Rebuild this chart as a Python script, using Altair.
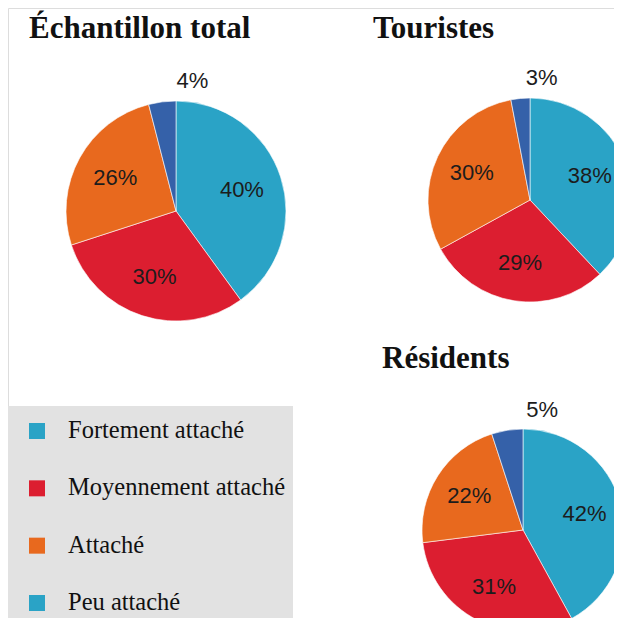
import altair as alt
import pandas as pd

categories = ["Fortement attaché", "Moyennement attaché", "Attaché", "Peu attaché"]
total = [40, 30, 26, 4]
touristes = [38, 29, 30, 3]
residents = [42, 31, 22, 5]
panel_titles = ["Échantillon total", "Touristes", "Résidents"]
slice_colors = ["#2AA3C6", "#DC1E30", "#E8691E", "#3561A9"]
legend_colors = ["#2AA3C6", "#DC1E30", "#E8691E", "#2AA3C6"]

rows = []
for pname, vals in zip(panel_titles, [total, touristes, residents]):
    for i, (c, v) in enumerate(zip(categories, vals)):
        rows.append({"panel": pname, "cat": c, "idx": i, "v": v, "lab": f"{v}%"})
df = pd.DataFrame(rows)

legend_df = pd.DataFrame({"cat": categories, "lc": legend_colors, "idx": list(range(len(categories)))})

# panel geometry (center x, center y, radius, title x, title y)
geom = {
    "Échantillon total": (168, 203, 110, 21, 30),
    "Touristes": (522, 192, 102, 365, 30),
    "Résidents": (515, 522, 101, 374, 360),
}

color_scale = alt.Scale(domain=categories, range=slice_colors)

layers = []

# legend background
layers.append(
    alt.Chart(pd.DataFrame({"a": [0]})).mark_rect(color="#E2E2E2").encode(
        x=alt.value(0), x2=alt.value(285), y=alt.value(398), y2=alt.value(620)
    )
)

for pname in panel_titles:
    cx, cy, R, tx, ty = geom[pname]
    base = alt.Chart(df).transform_filter(alt.datum.panel == pname)
    arc = base.mark_arc(radius=R, stroke="white", strokeWidth=0.6).encode(
        theta=alt.Theta("v:Q", stack=True),
        color=alt.Color("cat:N", scale=color_scale, legend=None),
        order=alt.Order("idx:O"),
        x=alt.value(cx),
        y=alt.value(cy),
    )
    txt = base.transform_calculate(
        lr=f"datum.v < 10 ? {R + 21} : {R * 0.63}"
    ).mark_text(
        font="Liberation Sans", fontSize=22, color="#1c1c1c", align="center", baseline="middle"
    ).encode(
        theta=alt.Theta("v:Q", stack=True),
        radius=alt.Radius("lr:Q", scale=None),
        order=alt.Order("idx:O"),
        text="lab:N",
        x=alt.value(cx),
        y=alt.value(cy),
    )
    title = alt.Chart(pd.DataFrame({"t": [pname]})).mark_text(
        font="Liberation Serif", fontSize=31, fontWeight="bold", color="#111111",
        align="left", baseline="alphabetic"
    ).encode(text="t:N", x=alt.value(tx), y=alt.value(ty))
    layers += [arc, txt, title]

legend_y = alt.Y("cat:N", sort=categories, scale=alt.Scale(type="point", domain=categories, range=[423, 595], padding=0), axis=None)
legend_sq = alt.Chart(legend_df).mark_square(size=256, opacity=1).encode(
    x=alt.value(29), y=legend_y, color=alt.Color("lc:N", scale=None)
)
legend_tx = alt.Chart(legend_df).mark_text(
    font="Liberation Serif", fontSize=24.5, color="#111111", align="left", baseline="middle"
).encode(x=alt.value(60), y=legend_y, text="cat:N")
layers += [legend_sq, legend_tx]

chart = alt.layer(*layers).properties(
    width=606, height=610, autosize=alt.AutoSizeParams(type="none"), padding=0
).configure_view(stroke=None).configure(background="white")

chart.save("out.html", embed_options={"renderer": "svg", "actions": False})
